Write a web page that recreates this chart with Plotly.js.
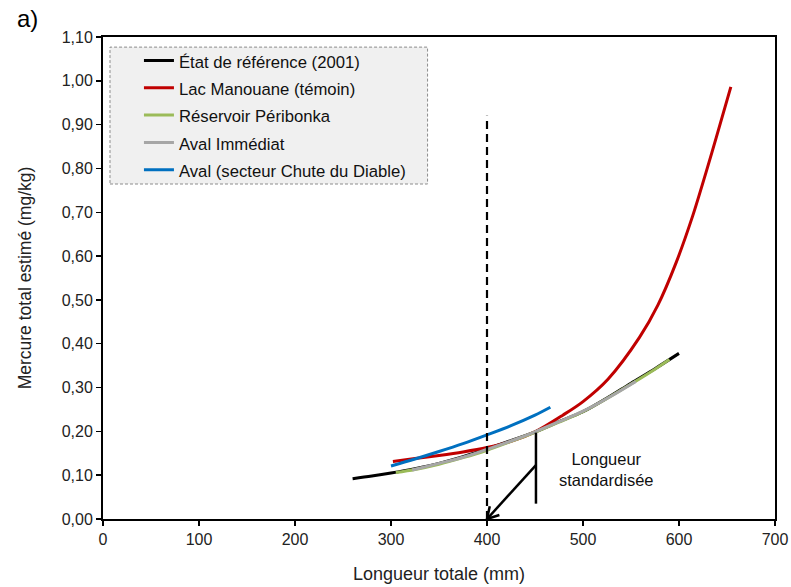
<!DOCTYPE html>
<html>
<head>
<meta charset="utf-8">
<script src="https://cdn.plot.ly/plotly-3.0.1.min.js"></script>
<style>
  html, body { margin: 0; padding: 0; background: #fff; }
  #chart { width: 791px; height: 587px; }
</style>
</head>
<body>
<div id="chart"></div>
<script>
// Mercury vs. total length curves, per sector
const refLength = [260, 280, 300, 325, 350, 375, 400, 425, 450, 475, 500, 525, 550, 575, 600];
const refMercury = [0.092, 0.098, 0.105, 0.115, 0.127, 0.142, 0.160, 0.179, 0.199, 0.222, 0.245, 0.276, 0.310, 0.343, 0.378];

const manouaneLength = [302, 325, 350, 375, 400, 425, 450, 479, 500, 526, 559, 578, 597, 614, 628, 639, 654];
const manouaneMercury = [0.131, 0.138, 0.145, 0.153, 0.163, 0.177, 0.199, 0.237, 0.268, 0.319, 0.415, 0.488, 0.585, 0.690, 0.790, 0.872, 0.986];

const periLength = [305, 325, 350, 375, 400, 425, 450, 475, 500, 525, 550, 575, 590];
const periMercury = [0.106, 0.113, 0.125, 0.140, 0.157, 0.177, 0.198, 0.221, 0.245, 0.275, 0.308, 0.342, 0.364];

const avalLength = [322, 350, 375, 400, 425, 450, 475, 500, 525, 555];
const avalMercury = [0.112, 0.127, 0.141, 0.159, 0.178, 0.199, 0.222, 0.246, 0.275, 0.314];

const diableLength = [300, 325, 350, 375, 400, 425, 450, 466];
const diableMercury = [0.121, 0.137, 0.154, 0.172, 0.192, 0.213, 0.237, 0.255];

const seriesNames = [
  "État de référence (2001)",
  "Lac Manouane (témoin)",
  "Réservoir Péribonka",
  "Aval Immédiat",
  "Aval (secteur Chute du Diable)"
];
const seriesColors = ["#000000", "#c00000", "#9bbb59", "#a6a6a6", "#0070c0"];

const xRange = [0, 700];
const yRange = [0, 1.1];
const xTicks = [0, 100, 200, 300, 400, 500, 600, 700];
const yTicks = [0, 0.1, 0.2, 0.3, 0.4, 0.5, 0.6, 0.7, 0.8, 0.9, 1.0, 1.1];

const standardLength = 400;   // dashed reference line
const standardTop = 0.92;
const markerX = 451;          // callout stem
const markerBottom = 0.035;
const markerTop = 0.197;
const arrowStartY = 0.123;

const W = 791, H = 587;
const M = { l: 103, r: 16, t: 37, b: 68 };

const sans = "Liberation Sans, Arial, sans-serif";

const xs = [refLength, manouaneLength, periLength, avalLength, diableLength];
const ys = [refMercury, manouaneMercury, periMercury, avalMercury, diableMercury];

// legend rows use a taller line box than the visible text
const traces = xs.map((x, i) => ({
  type: "scatter",
  mode: "lines",
  x: x,
  y: ys[i],
  name: '<span style="font-size:16.7px">' + seriesNames[i] + '</span>',
  line: { color: seriesColors[i], width: 3, shape: "spline", smoothing: 0.9 },
  hoverinfo: "skip"
}));

// open arrowhead for the callout, built in pixel space then mapped back to data units
const pxPerX = (W - M.l - M.r) / (xRange[1] - xRange[0]);
const pxPerY = (H - M.t - M.b) / (yRange[1] - yRange[0]);
function arrowHeadPath(tipX, tipY, fromX, fromY, len, spreadDeg) {
  const dx = (fromX - tipX) * pxPerX;
  const dy = (fromY - tipY) * pxPerY;
  const base = Math.atan2(dy, dx);
  const a = spreadDeg * Math.PI / 180;
  const w1x = tipX + len * Math.cos(base + a) / pxPerX;
  const w1y = tipY + len * Math.sin(base + a) / pxPerY;
  const w2x = tipX + len * Math.cos(base - a) / pxPerX;
  const w2y = tipY + len * Math.sin(base - a) / pxPerY;
  return `M${w1x},${w1y} L${tipX},${tipY} L${w2x},${w2y}`;
}

const layout = {
  width: W,
  height: H,
  margin: M,
  paper_bgcolor: "#ffffff",
  plot_bgcolor: "#ffffff",
  separators: ", ",
  showlegend: true,
  legend: {
    x: 0.0535, y: 0.99, xanchor: "left", yanchor: "top",
    bgcolor: "rgba(0,0,0,0)",
    borderwidth: 0,
    font: { family: sans, size: 18.7, color: "#111" },
    itemwidth: 30,
    tracegroupgap: 0
  },
  xaxis: {
    range: xRange,
    tickvals: xTicks,
    ticks: "outside", ticklen: 5, tickwidth: 1.5, tickcolor: "#000",
    showline: true, linecolor: "#000", linewidth: 2, mirror: true,
    showgrid: false, zeroline: false, automargin: false,
    tickfont: { family: sans, size: 16, color: "#222" },
    title: { text: "Longueur totale (mm)", font: { family: sans, size: 18, color: "#222" }, standoff: 20 }
  },
  yaxis: {
    range: yRange,
    tickvals: yTicks,
    tickformat: ".2f",
    ticks: "outside", ticklen: 5, tickwidth: 1.5, tickcolor: "#000",
    showline: true, linecolor: "#000", linewidth: 2, mirror: true,
    showgrid: false, zeroline: false, automargin: false,
    tickfont: { family: sans, size: 16, color: "#222" },
    title: { text: "Mercure total estimé (mg/kg)", font: { family: sans, size: 17.5, color: "#222" }, standoff: 26 }
  },
  shapes: [
    // legend frame
    {
      type: "rect", xref: "paper", yref: "paper",
      x0: 0.0104, x1: 0.483, y0: 0.695, y1: 0.979,
      fillcolor: "#f0f0f0",
      line: { color: "#8c8c8c", width: 1, dash: "3px,2px" },
      layer: "below"
    },
    // standard length marker
    {
      type: "line", xref: "x", yref: "y",
      x0: standardLength, x1: standardLength, y0: 0, y1: standardTop,
      line: { color: "#000", width: 2.2, dash: "8px,5px" }
    },
    {
      type: "line", xref: "x", yref: "y",
      x0: markerX, x1: markerX, y0: markerBottom, y1: markerTop,
      line: { color: "#000", width: 2.5 }
    },
    // callout arrow shaft and head
    {
      type: "line", xref: "x", yref: "y",
      x0: markerX, y0: arrowStartY, x1: standardLength, y1: 0,
      line: { color: "#000", width: 2.5 }
    },
    {
      type: "path", xref: "x", yref: "y",
      path: arrowHeadPath(standardLength, 0, markerX, arrowStartY, 13, 30),
      line: { color: "#000", width: 2.5 }
    }
  ],
  annotations: [
    {
      x: 524, y: 0.112, xref: "x", yref: "y",
      text: "Longueur<br>standardisée",
      showarrow: false,
      font: { family: sans, size: 16.5, color: "#111" },
      align: "center"
    },
    {
      x: -0.131, y: 1.039, xref: "paper", yref: "paper",
      xanchor: "left", yanchor: "middle",
      text: "a)", showarrow: false,
      font: { family: sans, size: 24, color: "#000" }
    }
  ]
};

Plotly.newPlot("chart", traces, layout, { staticPlot: true, displayModeBar: false });
</script>
</body>
</html>
